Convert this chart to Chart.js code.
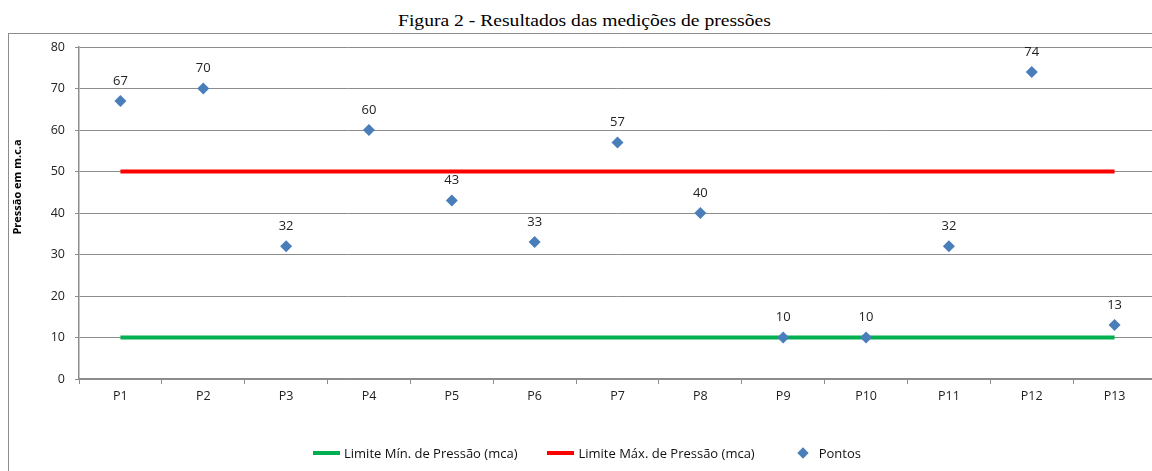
<!DOCTYPE html>
<html>
<head>
<meta charset="utf-8">
<script src="https://cdn.jsdelivr.net/npm/chart.js@4.4.0/dist/chart.umd.min.js"></script>
<style>
  html, body { margin: 0; padding: 0; width: 1152px; height: 471px; overflow: hidden; background: #fff; }
  #title { position: absolute; left: 398px; top: 10px; font-family: "Liberation Serif", "DejaVu Serif", serif; font-size: 17.5px; color: #000; white-space: nowrap; transform: scaleX(1.12); transform-origin: 0 0; }
  #frame { position: absolute; left: 8px; top: 33px; width: 1300px; height: 600px; border: 1px solid #8c8c8c; box-sizing: border-box; }
  #wrap { position: absolute; left: 0; top: 0; width: 1162px; height: 471px; }
  #legend { position: absolute; left: 313px; top: 444px; display: flex; align-items: center; font-family: "Open Sans", sans-serif; font-size: 13px; color: #111; white-space: nowrap; }
  .ln { display: inline-block; width: 27px; height: 4px; margin-right: 4px; }
  .dm { display: inline-block; width: 8px; height: 8px; background: #4A7EBB; transform: rotate(45deg); margin-left: 44px; margin-right: 12px; }
</style>
</head>
<body>
<div id="title">Figura 2 - Resultados das medições de pressões</div>
<div id="frame"></div>
<div id="wrap"><canvas id="c" width="1162" height="471"></canvas></div>
<div id="legend">
  <span class="ln" style="background:#00B050"></span><span id="lg0">Limite Mín. de Pressão (mca)</span>
  <span class="ln" style="background:#FF0000; margin-left:30px"></span><span id="lg1">Limite Máx. de Pressão (mca)</span>
  <span class="dm"></span><span id="lg2">Pontos</span>
</div>
<script>
const categories = ["P1","P2","P3","P4","P5","P6","P7","P8","P9","P10","P11","P12","P13"];
const limiteMin = [10,10,10,10,10,10,10,10,10,10,10,10,10];
const limiteMax = [50,50,50,50,50,50,50,50,50,50,50,50,50];
const pontos = [67,70,32,60,43,33,57,40,10,10,32,74,13];
const yTicks = [0,10,20,30,40,50,60,70,80];
const seriesNames = ["Limite Mín. de Pressão (mca)", "Limite Máx. de Pressão (mca)", "Pontos"];
const yTitle = "Pressão em m.c.a";

const gridColor = "#8c8c8c";
const font = "'Open Sans', sans-serif";

const labelPlugin = {
  id: "pointLabels",
  afterDatasetsDraw(chart) {
    const ctx = chart.ctx;
    const meta = chart.getDatasetMeta(2);
    ctx.save();
    ctx.font = "13px " + font;
    ctx.fillStyle = "#222";
    ctx.textAlign = "center";
    ctx.textBaseline = "middle";
    meta.data.forEach((el, i) => {
      ctx.fillText(String(pontos[i]), el.x, el.y - 20);
    });
    // y-axis title (placed as in the reference, slightly above the plot's centre)
    ctx.translate(18, 187);
    ctx.rotate(-Math.PI / 2);
    ctx.font = "bold 11px " + font;
    ctx.fillStyle = "#000";
    ctx.fillText(yTitle, 0, 0);
    ctx.restore();
  }
};

new Chart(document.getElementById("c"), {
  type: "line",
  data: {
    labels: categories,
    datasets: [
      { label: seriesNames[0], data: limiteMin, borderColor: "#00B050", backgroundColor: "#00B050", borderWidth: 4, pointRadius: 0, fill: false, tension: 0, order: 3 },
      { label: seriesNames[1], data: limiteMax, borderColor: "#FF0000", backgroundColor: "#FF0000", borderWidth: 4, pointRadius: 0, fill: false, tension: 0, order: 2 },
      { label: seriesNames[2], data: pontos, showLine: false, pointStyle: "rectRot", pointRadius: 6, pointHoverRadius: 6, pointBackgroundColor: "#4A7EBB", pointBorderColor: "#4A7EBB", pointBorderWidth: 0, order: 1 }
    ]
  },
  options: {
    responsive: false,
    animation: false,
    events: [],
    layout: { padding: { left: 0, right: 1, top: 47, bottom: 0 } },
    plugins: { legend: { display: false }, title: { display: false }, tooltip: { enabled: false } },
    scales: {
      x: {
        type: "category",
        offset: true,
        grid: { offset: true, drawOnChartArea: false, drawTicks: true, tickLength: 5, color: gridColor, lineWidth: 1 },
        border: { display: true, color: gridColor, width: 1.5 },
        ticks: { font: { family: font, size: 12.5 }, color: "#222", padding: 5, maxRotation: 0, autoSkip: false },
        afterFit(scale) { scale.height = 92; }
      },
      y: {
        min: 0, max: 80,
        afterBuildTicks(scale) { scale.ticks = yTicks.map(v => ({ value: v })); },
        grid: { color: gridColor, lineWidth: 1, drawTicks: true, tickLength: 4 },
        border: { display: true, color: gridColor, width: 1.5 },
        ticks: { font: { family: font, size: 12.5 }, color: "#222", padding: 10 },
        title: { display: false },
        afterFit(scale) { scale.width = 79; }
      }
    }
  },
  plugins: [labelPlugin]
});
</script>
</body>
</html>
